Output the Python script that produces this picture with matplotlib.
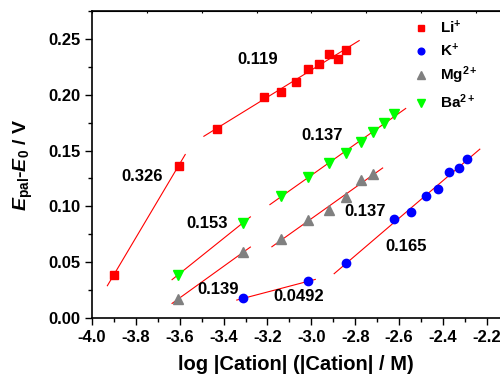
import numpy as np
import matplotlib
matplotlib.use("Agg")
import matplotlib.pyplot as plt
from matplotlib.ticker import MultipleLocator, FormatStrFormatter

plt.rcParams['font.family'] = ['Liberation Sans', 'DejaVu Sans']
plt.rcParams['font.weight'] = 'bold'
plt.rcParams['mathtext.fontset'] = 'custom'
plt.rcParams['mathtext.rm'] = 'Liberation Sans:bold'
plt.rcParams['mathtext.bf'] = 'Liberation Sans:bold'
plt.rcParams['mathtext.it'] = 'Liberation Sans:bold:italic'
plt.rcParams['mathtext.bfit'] = 'Liberation Sans:bold:italic'
plt.rcParams['mathtext.default'] = 'regular'

# --- данные (log|Cation|, E_pal - E0) ---
li_x = [-3.901, -3.605, -3.432, -3.215, -3.139, -3.072, -3.014, -2.965, -2.920, -2.880, -2.842]
li_y = [0.0385, 0.1365, 0.1694, 0.1980, 0.2025, 0.2115, 0.2230, 0.2273, 0.2363, 0.2324, 0.2404]

k_x = [-3.310, -3.014, -2.842, -2.625, -2.546, -2.479, -2.423, -2.374, -2.328, -2.289]
k_y = [0.0176, 0.0329, 0.0490, 0.0884, 0.0947, 0.1096, 0.1156, 0.1308, 0.1347, 0.1427]

mg_x = [-3.607, -3.310, -3.139, -3.014, -2.920, -2.842, -2.774, -2.719]
mg_y = [0.0170, 0.0590, 0.0710, 0.0880, 0.0963, 0.1086, 0.1233, 0.1292]

ba_x = [-3.608, -3.312, -3.139, -3.017, -2.920, -2.842, -2.775, -2.719, -2.671, -2.625]
ba_y = [0.0386, 0.0852, 0.1094, 0.1267, 0.1387, 0.1474, 0.1572, 0.1662, 0.1743, 0.1826]

# линейные участки: (серия, диапазон аппроксимации, диапазон линии, подпись, позиция подписи)
fits = [
    ("li", (-3.95, -3.55), (-3.93, -3.575), "0.326", (-3.77, 0.127)),
    ("li", (-3.50, -2.80), (-3.49, -2.782), "0.119", (-3.246, 0.2318)),
    ("ba", (-3.65, -3.25), (-3.635, -3.278), "0.153", (-3.473, 0.0842)),
    ("ba", (-3.20, -2.60), (-3.189, -2.570), "0.137", (-2.950, 0.1637)),
    ("mg", (-3.65, -3.25), (-3.635, -3.278), "0.139", (-3.427, 0.0251)),
    ("mg", (-3.20, -2.60), (-3.180, -2.675), "0.137", (-2.753, 0.0950)),
    ("k", (-3.40, -2.95), (-3.340, -2.982), "0.0492", (-3.060, 0.0190)),
    ("k", (-2.90, -2.20), (-2.896, -2.232), "0.165", (-2.566, 0.0640)),
]

series = {"li": (li_x, li_y), "k": (k_x, k_y), "mg": (mg_x, mg_y), "ba": (ba_x, ba_y)}

fig = plt.figure(figsize=(5.0, 3.76), dpi=100)
ax = fig.add_axes([0.184, 0.1543, 0.816, 0.8165])

for name, (f0, f1), (l0, l1), txt, (tx, ty) in fits:
    x = np.array(series[name][0])
    y = np.array(series[name][1])
    m = (x >= f0) & (x <= f1)
    k, b = np.polyfit(x[m], y[m], 1)
    xx = np.array([l0, l1])
    ax.plot(xx, k * xx + b, color="red", lw=0.8, zorder=2)
    ax.text(tx, ty, txt, fontsize=12, fontweight="bold", ha="center", va="center")

ax.plot(li_x, li_y, "s", color="red", ms=6, ls="none", label="Li$^{+}$", zorder=3)
ax.plot(k_x, k_y, "o", color="blue", ms=6, ls="none", label="K$^{+}$", zorder=3)
ax.plot(mg_x, mg_y, "^", color="gray", ms=6.5, ls="none", label="Mg$^{2+}$", zorder=3)
ax.plot(ba_x, ba_y, "v", color="#00ff00", ms=6.5, ls="none", label="Ba$^{2+}$", zorder=3)

ax.set_xlim(-4.0, -2.14)
ax.set_ylim(0.0, 0.275)
ax.xaxis.set_major_locator(MultipleLocator(0.2))
ax.xaxis.set_minor_locator(MultipleLocator(0.1))
ax.yaxis.set_major_locator(MultipleLocator(0.05))
ax.yaxis.set_minor_locator(MultipleLocator(0.025))
ax.xaxis.set_major_formatter(FormatStrFormatter("%.1f"))
ax.yaxis.set_major_formatter(FormatStrFormatter("%.2f"))
ax.tick_params(axis="both", which="major", direction="out", length=5, width=1, labelsize=12)
ax.tick_params(axis="both", which="minor", direction="out", length=3, width=1)
ax.secondary_xaxis("top").tick_params(axis="x", which="both", direction="in", length=1.5,
                                      labeltop=False)
for sp in ["left", "bottom", "top"]:
    ax.spines[sp].set_linewidth(1.2)
ax.spines["right"].set_visible(False)

ax.set_xlabel("log |Cation| (|Cation| / M)", fontsize=14.5, fontweight="bold", labelpad=7)
ax.set_ylabel(r"$\mathbfit{E}_{\mathbf{pal}}$-$\mathbfit{E}_{\mathbf{0}}$ / V",
              fontsize=14, fontweight="bold", labelpad=9)

ax.legend(loc="upper left", bbox_to_anchor=(0.788, 0.975), frameon=False, fontsize=11,
          borderaxespad=0, borderpad=0, handletextpad=0.75, labelspacing=0.38,
          handlelength=1.0, markerscale=0.8)

fig.savefig("out.png", dpi=100)
